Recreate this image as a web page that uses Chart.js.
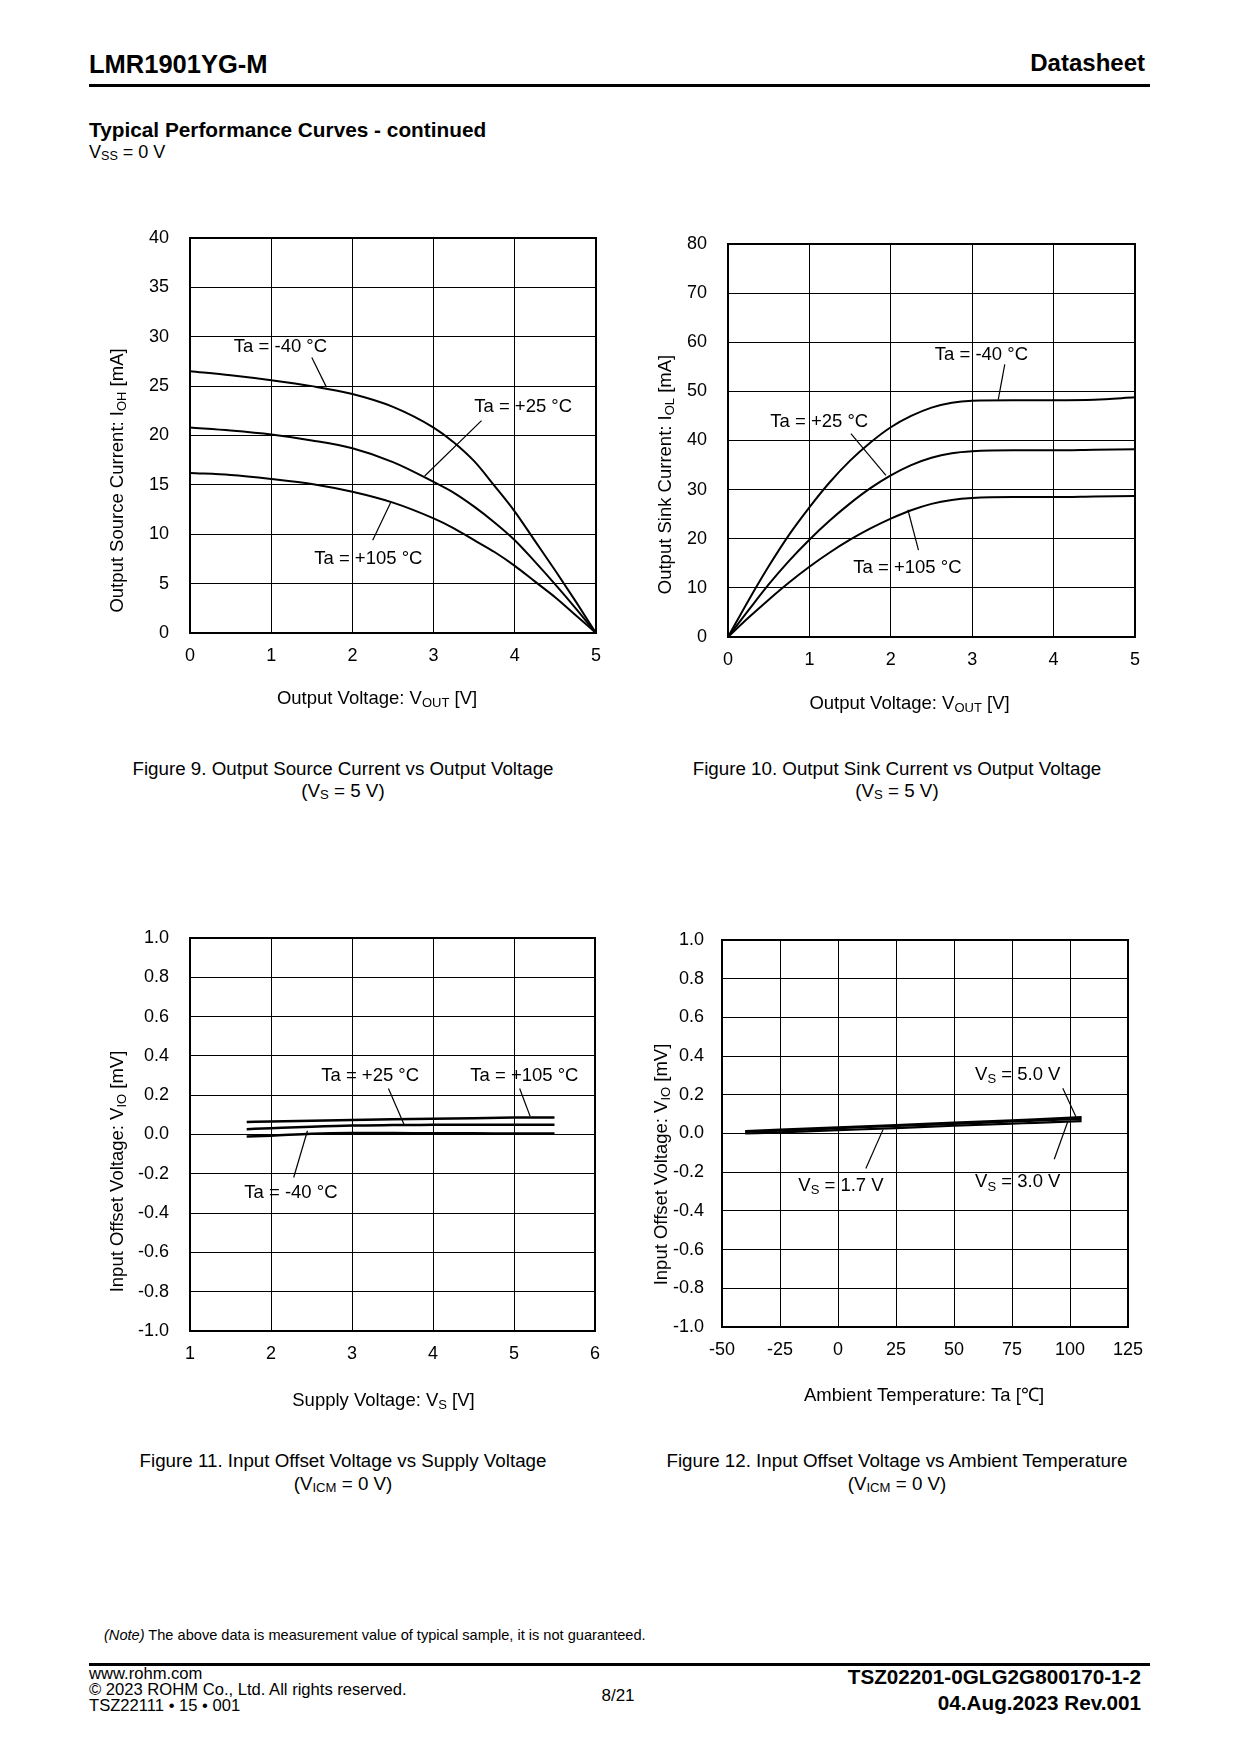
<!DOCTYPE html>
<html>
<head>
<meta charset="utf-8">
<script src="https://cdn.jsdelivr.net/npm/chart.js@4.4.1/dist/chart.umd.min.js"></script>
<style>
  body { margin: 0; background: #fff; }
  #page { position: relative; width: 1240px; height: 1754px; font-family: "Liberation Sans", Arial, sans-serif; color: #000; overflow: hidden; }
  .t { position: absolute; white-space: nowrap; line-height: 1; }
  .l { transform: translateY(-50%); }
  .r { transform: translate(-100%, -50%); }
  .c { transform: translate(-50%, -50%); text-align: center; }
  .s { font-size: 0.7em; position: relative; top: 0.12em; }
  .rule { position: absolute; left: 89px; width: 1061px; height: 3px; background: #000; }
  canvas { position: absolute; }
</style>
</head>
<body>
<div id="page">
  <div class="t l" style="left:89px;top:65px;font-size:25.5px;font-weight:bold">LMR1901YG-M</div>
  <div class="t r" style="left:1145px;top:63px;font-size:24px;font-weight:bold">Datasheet</div>
  <div class="rule" style="top:84px"></div>
  <div class="t l" style="left:89px;top:130px;font-size:20.8px;font-weight:bold">Typical Performance Curves - continued</div>
  <div class="t l" style="left:89px;top:152px;font-size:18px">V<span class="s">SS</span> = 0 V</div>

  <canvas id="c1"></canvas>
  <canvas id="c2"></canvas>
  <canvas id="c3"></canvas>
  <canvas id="c4"></canvas>

  <div class="t c" style="left:343px;top:769px;font-size:18.75px">Figure 9. Output Source Current vs Output Voltage</div>
  <div class="t c" style="left:343px;top:791px;font-size:18.75px">(V<span class="s">S</span> = 5 V)</div>
  <div class="t c" style="left:897px;top:769px;font-size:18.75px">Figure 10. Output Sink Current vs Output Voltage</div>
  <div class="t c" style="left:897px;top:791px;font-size:18.75px">(V<span class="s">S</span> = 5 V)</div>
  <div class="t c" style="left:343px;top:1461px;font-size:18.75px">Figure 11. Input Offset Voltage vs Supply Voltage</div>
  <div class="t c" style="left:343px;top:1484px;font-size:18.75px">(V<span class="s">ICM</span> = 0 V)</div>
  <div class="t c" style="left:897px;top:1461px;font-size:18.75px">Figure 12. Input Offset Voltage vs Ambient Temperature</div>
  <div class="t c" style="left:897px;top:1484px;font-size:18.75px">(V<span class="s">ICM</span> = 0 V)</div>

  <div class="t l" style="left:104px;top:1635px;font-size:14.6px"><i>(Note)</i> The above data is measurement value of typical sample, it is not guaranteed.</div>
  <div class="rule" style="top:1663px"></div>
  <div class="t l" style="left:89px;top:1674px;font-size:16.6px">www.rohm.com</div>
  <div class="t l" style="left:89px;top:1690px;font-size:16.6px">© 2023 ROHM Co., Ltd. All rights reserved.</div>
  <div class="t l" style="left:89px;top:1706px;font-size:16.6px">TSZ22111 • 15 • 001</div>
  <div class="t c" style="left:618px;top:1695px;font-size:17px">8/21</div>
  <div class="t r" style="left:1141px;top:1677px;font-size:20.7px;font-weight:bold">TSZ02201-0GLG2G800170-1-2</div>
  <div class="t r" style="left:1141px;top:1703px;font-size:20.7px;font-weight:bold">04.Aug.2023 Rev.001</div>
</div>

<script>
// Figure 9: output source current vs output voltage
const voutSource = [0, 0.5, 1, 1.5, 2, 2.5, 3, 3.25, 3.5, 3.75, 4, 4.25, 4.5, 4.75, 5];
const iohM40 = [26.5, 26.1, 25.6, 25.0, 24.2, 22.9, 20.8, 19.3, 17.4, 14.9, 12.3, 9.3, 6.3, 3.2, 0];
const ioh25 = [20.8, 20.5, 20.1, 19.5, 18.7, 17.3, 15.3, 14.2, 12.8, 11.2, 9.4, 7.2, 4.9, 2.5, 0];
const ioh105 = [16.2, 16.0, 15.6, 15.1, 14.3, 13.2, 11.6, 10.6, 9.4, 8.2, 6.8, 5.2, 3.6, 1.8, 0];
const ticks9x = [0, 1, 2, 3, 4, 5];
const ticks9y = [0, 5, 10, 15, 20, 25, 30, 35, 40];

// Figure 10: output sink current vs output voltage
const voutSink = [0, 0.25, 0.5, 0.75, 1, 1.25, 1.5, 1.75, 2, 2.25, 2.5, 2.75, 3, 3.5, 4, 4.5, 5];
const iolM40 = [0, 7.4, 14.4, 20.8, 26.4, 31.5, 35.9, 39.6, 42.7, 45.0, 46.7, 47.7, 48.1, 48.2, 48.2, 48.3, 48.8];
const iol25 = [0, 5.4, 10.7, 15.5, 19.8, 23.7, 27.2, 30.3, 32.9, 35.0, 36.5, 37.4, 37.8, 38.0, 38.0, 38.1, 38.2];
const iol105 = [0, 3.9, 7.6, 11.1, 14.3, 17.2, 19.8, 22.1, 24.1, 25.8, 27.1, 27.9, 28.3, 28.5, 28.5, 28.6, 28.7];
const ticks10x = [0, 1, 2, 3, 4, 5];
const ticks10y = [0, 10, 20, 30, 40, 50, 60, 70, 80];

// Figure 11: input offset voltage vs supply voltage
const vsSupply = [1.7, 2, 2.5, 3, 3.5, 4, 4.5, 5, 5.5];
const vioTa105 = [0.064, 0.066, 0.070, 0.074, 0.077, 0.080, 0.083, 0.086, 0.087];
const vioTa25 = [0.027, 0.032, 0.040, 0.046, 0.048, 0.049, 0.050, 0.050, 0.050];
const vioTaM40 = [-0.010, -0.006, 0.004, 0.007, 0.007, 0.006, 0.006, 0.005, 0.005];
const ticks11x = [1, 2, 3, 4, 5, 6];
const ticksVio = [-1, -0.8, -0.6, -0.4, -0.2, 0, 0.2, 0.4, 0.6, 0.8, 1];

// Figure 12: input offset voltage vs ambient temperature
const taAmb = [-40, -25, 0, 25, 50, 75, 85, 105];
const vioVs50 = [0.013, 0.020, 0.032, 0.044, 0.056, 0.068, 0.073, 0.085];
const vioVs30 = [0.008, 0.015, 0.027, 0.039, 0.050, 0.062, 0.066, 0.076];
const vioVs17 = [0.000, 0.006, 0.017, 0.028, 0.040, 0.051, 0.055, 0.064];
const ticks12x = [-50, -25, 0, 25, 50, 75, 100, 125];

const FAMILY = '"Liberation Sans", Arial, sans-serif';
const BIG = '18.5px ' + FAMILY;
const SMALL = '13px ' + FAMILY;

// text made of [string, isSubscript] parts, y is the visual middle
function drawRich(ctx, parts, x, y, align) {
  let w = 0;
  parts.forEach(([t, s]) => { ctx.font = s ? SMALL : BIG; w += ctx.measureText(t).width; });
  let cx = align === 'center' ? x - w / 2 : x;
  ctx.textBaseline = 'alphabetic';
  ctx.textAlign = 'left';
  parts.forEach(([t, s]) => {
    ctx.font = s ? SMALL : BIG;
    ctx.fillText(t, cx, y + 6.6 + (s ? 3.5 : 0));
    cx += ctx.measureText(t).width;
  });
}

const overlay = {
  id: 'overlay',
  beforeDatasetsDraw(chart) {
    const { ctx, chartArea: a } = chart;
    ctx.save();
    ctx.strokeStyle = '#000';
    ctx.lineWidth = 2;
    ctx.strokeRect(a.left, a.top, a.right - a.left, a.bottom - a.top);
    ctx.restore();
  },
  afterDatasetsDraw(chart, args, opts) {
    const { ctx, chartArea: a, scales: { x, y } } = chart;
    ctx.save();
    ctx.fillStyle = '#000';
    ctx.strokeStyle = '#000';
    ctx.lineWidth = 1.2;
    opts.notes.forEach(n => {
      ctx.beginPath();
      ctx.moveTo(x.getPixelForValue(n.from[0]), y.getPixelForValue(n.from[1]));
      ctx.lineTo(x.getPixelForValue(n.to[0]), y.getPixelForValue(n.to[1]));
      ctx.stroke();
      drawRich(ctx, n.text, x.getPixelForValue(n.at[0]), y.getPixelForValue(n.at[1]), 'left');
    });
    // axis titles
    const cxp = (a.left + a.right) / 2, cyp = (a.top + a.bottom) / 2;
    drawRich(ctx, opts.xTitle, cxp + opts.xPos[0], a.bottom + opts.xPos[1], 'center');
    ctx.translate(a.left - opts.yPos[0], cyp + opts.yPos[1]);
    ctx.rotate(-Math.PI / 2);
    drawRich(ctx, opts.yTitle, 0, 0, 'center');
    ctx.restore();
  }
};

function axis(ticks, pad, fmt) {
  return {
    type: 'linear',
    min: ticks[0],
    max: ticks[ticks.length - 1],
    afterBuildTicks: s => { s.ticks = ticks.map(v => ({ value: v })); },
    ticks: {
      autoSkip: false, padding: pad, color: '#000',
      font: { family: FAMILY, size: 18 },
      callback: fmt || (v => String(v))
    },
    grid: { color: '#000', lineWidth: 1, drawTicks: false },
    border: { display: false }
  };
}

function makeChart(id, box, cfg) {
  const cv = document.getElementById(id);
  cv.width = box.w + 150;
  cv.height = box.h + 150;
  cv.style.left = (box.l - 110) + 'px';
  cv.style.top = (box.t - 50) + 'px';
  const xs = axis(cfg.xTicks, 12);
  xs.afterFit = s => { s.height = 100; };
  const ys = axis(cfg.yTicks, cfg.yPad, cfg.yFmt);
  ys.afterFit = s => { s.width = 110; };
  return new Chart(cv, {
    type: 'line',
    data: {
      datasets: cfg.series.map(s => ({
        data: cfg.x.map((v, i) => ({ x: v, y: s[i] })),
        borderColor: '#000',
        borderWidth: cfg.lw,
        pointRadius: 0,
        cubicInterpolationMode: 'monotone',
        fill: false
      }))
    },
    options: {
      responsive: false,
      animation: false,
      events: [],
      layout: { padding: { left: 0, top: 50, right: 40, bottom: 0 } },
      plugins: {
        legend: { display: false },
        tooltip: { enabled: false },
        overlay: cfg.overlay
      },
      scales: { x: xs, y: ys }
    },
    plugins: [overlay]
  });
}

const fmt1 = v => (Math.abs(v) < 1e-9 ? '0.0' : v.toFixed(1));

makeChart('c1', { l: 190, t: 238, w: 406, h: 395 }, {
  x: voutSource, series: [iohM40, ioh25, ioh105], lw: 2,
  xTicks: ticks9x, yTicks: ticks9y, yPad: 21,
  overlay: {
    xTitle: [['Output Voltage: V'], ['OUT', true], [' [V]']], xPos: [-16, 64],
    yTitle: [['Output Source Current: I'], ['OH', true], [' [mA]']], yPos: [74, 45],
    notes: [
      { text: [['Ta = -40 °C']], at: [0.54, 29.1], from: [1.50, 27.9], to: [1.68, 24.9] },
      { text: [['Ta = +25 °C']], at: [3.50, 23.0], from: [3.59, 21.5], to: [2.89, 15.9] },
      { text: [['Ta = +105 °C']], at: [1.53, 7.7], from: [2.47, 13.2], to: [2.25, 9.4] }
    ]
  }
});

makeChart('c2', { l: 728, t: 244, w: 407, h: 393 }, {
  x: voutSink, series: [iolM40, iol25, iol105], lw: 2,
  xTicks: ticks10x, yTicks: ticks10y, yPad: 21,
  overlay: {
    xTitle: [['Output Voltage: V'], ['OUT', true], [' [V]']], xPos: [-22, 65],
    yTitle: [['Output Sink Current: I'], ['OL', true], [' [mA]']], yPos: [64, 34],
    notes: [
      { text: [['Ta = -40 °C']], at: [2.54, 57.8], from: [3.40, 55.5], to: [3.32, 48.3] },
      { text: [['Ta = +25 °C']], at: [0.52, 44.1], from: [1.51, 41.4], to: [1.94, 32.9] },
      { text: [['Ta = +105 °C']], at: [1.54, 14.3], from: [2.34, 17.7], to: [2.21, 25.9] }
    ]
  }
});

makeChart('c3', { l: 190, t: 938, w: 405, h: 393 }, {
  x: vsSupply, series: [vioTa105, vioTa25, vioTaM40], lw: 2.5,
  xTicks: ticks11x, yTicks: ticksVio, yPad: 21, yFmt: fmt1,
  overlay: {
    xTitle: [['Supply Voltage: V'], ['S', true], [' [V]']], xPos: [-9, 68],
    yTitle: [['Input Offset Voltage: V'], ['IO', true], [' [mV]']], yPos: [74, 37],
    notes: [
      { text: [['Ta = +25 °C']], at: [2.62, 0.307], from: [3.45, 0.234], to: [3.64, 0.053] },
      { text: [['Ta = +105 °C']], at: [4.46, 0.307], from: [5.07, 0.234], to: [5.20, 0.092] },
      { text: [['Ta = -40 °C']], at: [1.67, -0.292], from: [2.28, -0.219], to: [2.45, 0.019] }
    ]
  }
});

makeChart('c4', { l: 722, t: 940, w: 406, h: 387 }, {
  x: taAmb, series: [vioVs50, vioVs30, vioVs17], lw: 2.2,
  xTicks: ticks12x, yTicks: ticksVio, yPad: 18, yFmt: fmt1,
  overlay: {
    xTitle: [['Ambient Temperature: Ta [℃]']], xPos: [-1, 67],
    yTitle: [['Input Offset Voltage: V'], ['IO', true], [' [mV]']], yPos: [62, 31],
    notes: [
      { text: [['V'], ['S', true], [' = 5.0 V']], at: [59.1, 0.311], from: [96.9, 0.234], to: [102.8, 0.08] },
      { text: [['V'], ['S', true], [' = 1.7 V']], at: [-17.1, -0.262], from: [12.0, -0.181], to: [19.4, 0.02] },
      { text: [['V'], ['S', true], [' = 3.0 V']], at: [59.1, -0.244], from: [93.2, -0.133], to: [99.1, 0.063] }
    ]
  }
});
</script>
</body>
</html>
